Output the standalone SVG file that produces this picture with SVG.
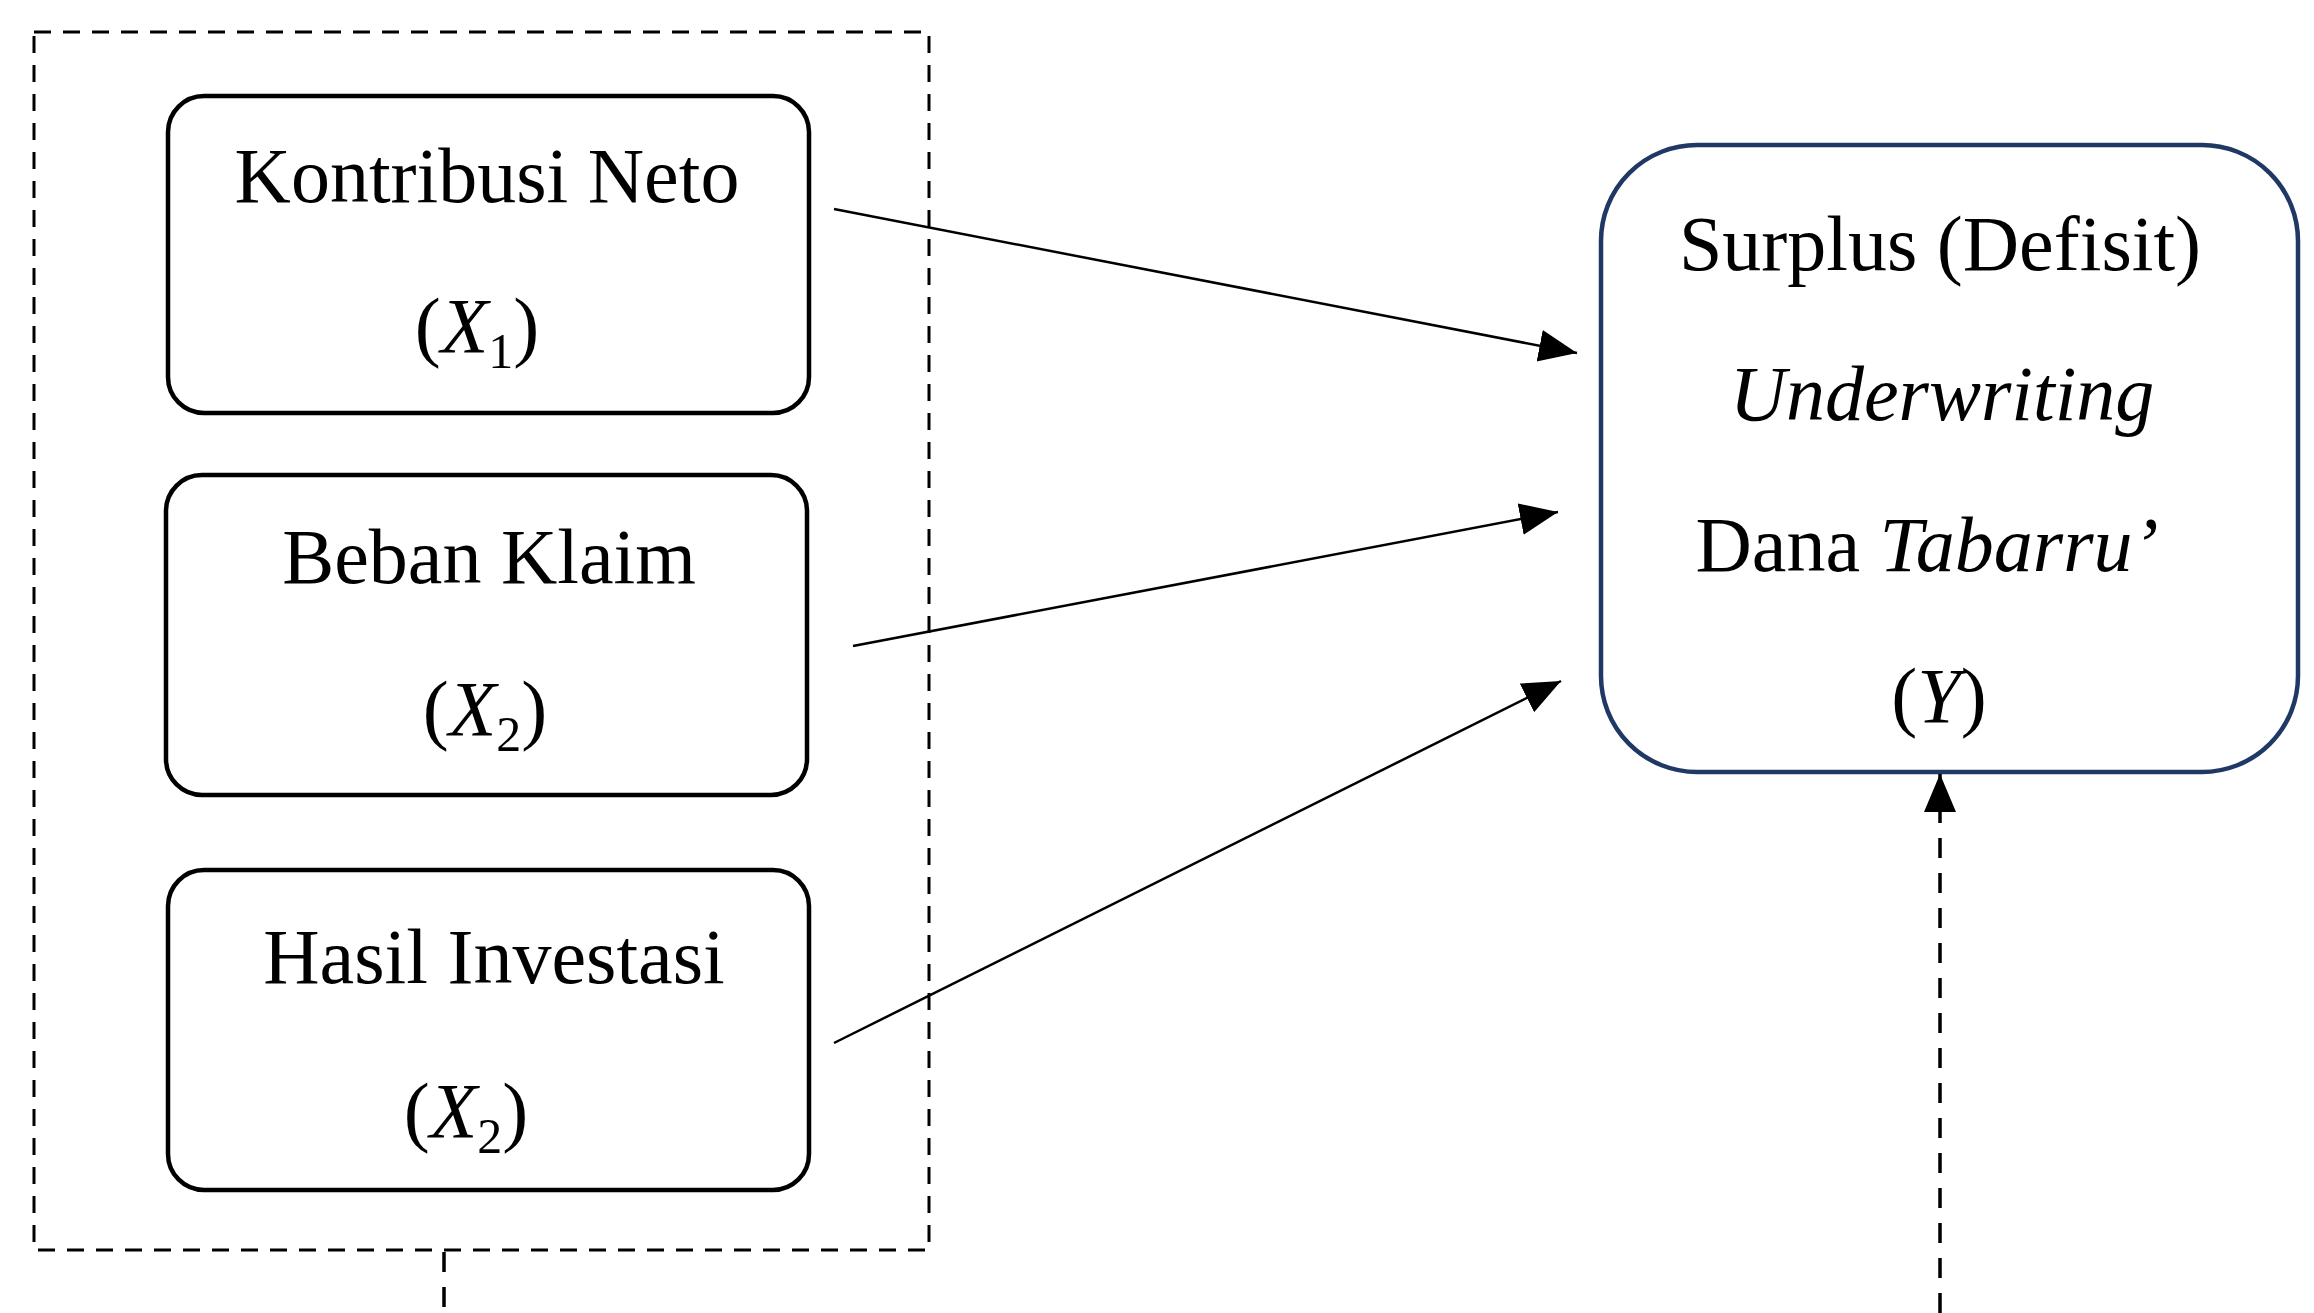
<svg xmlns="http://www.w3.org/2000/svg" width="2314" height="1313" viewBox="0 0 2314 1313">
<defs>
<style>
.box{fill:#fff;stroke:#000;stroke-width:4.5}
.ybox{fill:#fff;stroke:#1F3864;stroke-width:4.5}
.grp{fill:none;stroke:#000;stroke-width:3;stroke-dasharray:17 12}
.arrow{fill:none;stroke:#000;stroke-width:2.5}
.dash{fill:none;stroke:#000;stroke-width:3.5;stroke-dasharray:20 15}
text{font-family:"Liberation Serif","Times New Roman",serif;font-size:78px;fill:#000;text-anchor:middle}
.it{font-style:italic}
.sub{font-size:50px;font-style:normal}
</style>
<marker id="ah" markerUnits="userSpaceOnUse" markerWidth="40" markerHeight="34" refX="38" refY="16" orient="auto">
<path d="M0,0 L38,16 L0,32 z" fill="#000"/>
</marker>
</defs>
<rect width="2314" height="1313" fill="#fff"/>
<g id="group-x">
<rect class="grp" x="34" y="32" width="895" height="1218"/>
</g>
<g id="node-x1">
<rect class="box" x="168" y="96" width="641" height="317" rx="36" ry="36"/>
<text x="487" y="202">Kontribusi Neto</text>
<text x="477" y="352">(<tspan class="it">X</tspan><tspan class="sub" dy="16">1</tspan><tspan dy="-16">)</tspan></text>
</g>
<g id="node-x2">
<rect class="box" x="166" y="475" width="641" height="320" rx="36" ry="36"/>
<text x="489" y="583">Beban Klaim</text>
<text x="485" y="735">(<tspan class="it">X</tspan><tspan class="sub" dy="16">2</tspan><tspan dy="-16">)</tspan></text>
</g>
<g id="node-x3">
<rect class="box" x="168" y="870" width="641" height="320" rx="36" ry="36"/>
<text x="494" y="983">Hasil Investasi</text>
<text x="466" y="1137">(<tspan class="it">X</tspan><tspan class="sub" dy="16">2</tspan><tspan dy="-16">)</tspan></text>
</g>
<g id="node-y">
<rect class="ybox" x="1601" y="145" width="697" height="627" rx="96" ry="96"/>
<text x="1940" y="270">Surplus (Defisit)</text>
<text x="1942" y="420" class="it">Underwriting</text>
<text x="1927" y="571">Dana <tspan class="it">Tabarru’</tspan></text>
<text x="1939" y="722">(<tspan class="it">Y</tspan>)</text>
</g>
<g id="connectors">
<line class="arrow" x1="834" y1="209" x2="1577" y2="353" marker-end="url(#ah)"/>
<line class="arrow" x1="853" y1="646" x2="1558" y2="512" marker-end="url(#ah)"/>
<line class="arrow" x1="834" y1="1043" x2="1561" y2="681" marker-end="url(#ah)"/>
<line class="dash" x1="444" y1="1252" x2="444" y2="1313"/>
<line class="dash" x1="1940" y1="1313" x2="1940" y2="774" marker-end="url(#ah)"/>
</g>
</svg>
